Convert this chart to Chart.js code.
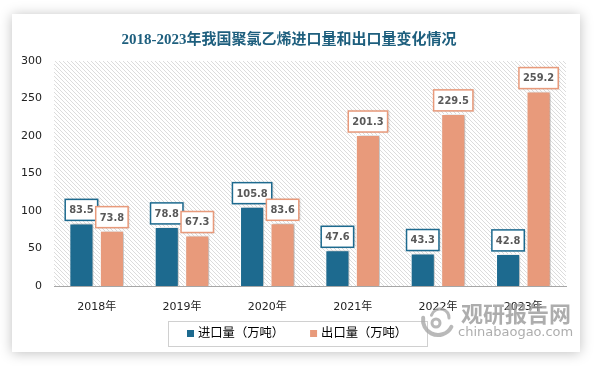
<!DOCTYPE html>
<html>
<head>
<meta charset="utf-8">
<script src="https://cdn.jsdelivr.net/npm/chart.js@4.4.0/dist/chart.umd.min.js"></script>
<style>
  html, body { margin: 0; padding: 0; background: #fff; }
  body { width: 594px; height: 366px; position: relative; overflow: hidden; }
  #card {
    position: absolute; left: 12px; top: 14px; width: 568px; height: 338px;
    background: #fff; box-shadow: 0 1px 12px rgba(0, 0, 0, 0.25);
  }
</style>
</head>
<body>
<div id="card"><canvas id="chart"></canvas></div>
<script>
// dados do gráfico
const anos = ['2018年', '2019年', '2020年', '2021年', '2022年', '2023年'];
const importacao = [83.5, 78.8, 105.8, 47.6, 43.3, 42.8];
const exportacao = [73.8, 67.3, 83.6, 201.3, 229.5, 259.2];
const ticksY = [0, 50, 100, 150, 200, 250, 300];

const AZUL = '#1d6a8f';
const LARANJA = '#e89a7b';
const FONTE = "'DejaVu Sans', 'Noto Sans CJK SC', sans-serif";

/**
 * Padrão de hachura diagonal do fundo
 */
function criarHachura() {
  const c = document.createElement('canvas');
  c.width = 4; c.height = 4;
  const g = c.getContext('2d');
  g.fillStyle = '#fff';
  g.fillRect(0, 0, 4, 4);
  g.fillStyle = '#dcdcdc';
  for (let i = 0; i < 4; i++) g.fillRect(i, i, 1, 1);
  return g.createPattern(c, 'repeat');
}

const pluginFundo = {
  id: 'fundo',
  beforeDraw(chart) {
    const { ctx, chartArea: a } = chart;
    ctx.save();
    ctx.fillStyle = criarHachura();
    ctx.fillRect(a.left, a.top, a.right - a.left, a.bottom - a.top);
    ctx.restore();
  },
  beforeDatasetsDraw(chart) {
    const ctx = chart.ctx;
    ctx.save();
    ctx.shadowColor = 'rgba(0,0,0,0.3)';
    ctx.shadowBlur = 3;
    ctx.shadowOffsetX = 2;
    ctx.shadowOffsetY = 0;
  },
  afterDatasetsDraw(chart) {
    chart.ctx.restore();
  }
};

/**
 * Rótulos com caixa sobre as barras
 */
const pluginRotulos = {
  id: 'rotulos',
  afterDatasetsDraw(chart) {
    const ctx = chart.ctx;
    ctx.save();
    ctx.font = "bold 11px 'DejaVu Sans Condensed', 'DejaVu Sans', sans-serif";
    ctx.textAlign = 'center';
    ctx.textBaseline = 'middle';
    chart.data.datasets.forEach((ds, i) => {
      chart.getDatasetMeta(i).data.forEach((bar, j) => {
        const txt = ds.data[j].toFixed(1);
        const w = ctx.measureText(txt).width + 8;
        const h = 21;
        const x = bar.x - w / 2;
        const y = bar.y - 3 - h;
        ctx.shadowColor = 'rgba(0,0,0,0.2)';
        ctx.shadowBlur = 2;
        ctx.shadowOffsetX = 1;
        ctx.fillStyle = '#fff';
        ctx.fillRect(x, y, w, h);
        ctx.shadowColor = 'transparent';
        ctx.strokeStyle = ds.backgroundColor;
        ctx.lineWidth = 1.5;
        ctx.strokeRect(x, y, w, h);
        ctx.fillStyle = '#595959';
        ctx.fillText(txt, bar.x, y + h / 2 + 0.5);
      });
    });
    ctx.restore();
  }
};

/**
 * Legenda com moldura e marca d'água
 */
const pluginExtras = {
  id: 'extras',
  afterDraw(chart) {
    const ctx = chart.ctx;
    ctx.save();

    // legenda
    ctx.font = '12.3px ' + FONTE;
    ctx.textBaseline = 'middle';
    ctx.textAlign = 'left';
    const itens = chart.data.datasets.map(ds => ({
      texto: ds.label, cor: ds.backgroundColor, w: 11 + ctx.measureText(ds.label).width
    }));
    const gap = 26;
    const total = itens.reduce((s, it) => s + it.w, 0) + gap * (itens.length - 1);
    const cy = 319.5;
    let x = Math.round(285 - total / 2);
    ctx.strokeStyle = '#d0d0d0';
    ctx.lineWidth = 1;
    ctx.strokeRect(x - 19 + 0.5, 307.5, Math.round(total + 39), 25);
    itens.forEach(it => {
      ctx.fillStyle = it.cor;
      ctx.fillRect(x, cy - 3.5, 7, 7);
      ctx.fillStyle = '#000';
      ctx.fillText(it.texto, x + 11, cy);
      x += it.w + gap;
    });

    // marca d'água
    ctx.globalAlpha = 0.8;
    ctx.strokeStyle = '#a8a8a8';
    ctx.lineCap = 'round';
    ctx.lineWidth = 4;
    ctx.beginPath(); ctx.arc(426, 306, 15, Math.PI * 0.15, Math.PI * 1.05); ctx.stroke();
    ctx.lineWidth = 3;
    ctx.beginPath(); ctx.arc(428, 304, 9, Math.PI * 1.1, Math.PI * 2.0); ctx.stroke();
    ctx.beginPath(); ctx.arc(424, 309, 4, 0, Math.PI * 2); ctx.stroke();
    ctx.fillStyle = '#999';
    ctx.font = "bold 22px 'Noto Sans CJK SC', sans-serif";
    ctx.fillText('观研报告网', 449, 300);
    ctx.font = "13px 'DejaVu Sans', sans-serif";
    ctx.fillText('chinabaogao.com', 446, 319);
    ctx.restore();
  }
};

const ctx = document.getElementById('chart').getContext('2d');
new Chart(ctx, {
  type: 'bar',
  data: {
    labels: anos,
    datasets: [{
      label: '进口量（万吨）',
      data: importacao,
      backgroundColor: AZUL,
      borderColor: '#fff',
      borderWidth: 1
    }, {
      label: '出口量（万吨）',
      data: exportacao,
      backgroundColor: LARANJA,
      borderColor: '#fff',
      borderWidth: 1
    }]
  },
  options: {
    responsive: true,
    maintainAspectRatio: false,
    animation: false,
    datasets: { bar: { categoryPercentage: 0.715, barPercentage: 0.79 } },
    layout: { padding: { left: 0, right: 14, top: 0, bottom: 0 } },
    plugins: {
      title: {
        display: true,
        text: '2018-2023年我国聚氯乙烯进口量和出口量变化情况',
        color: '#1e5f7e',
        font: { size: 15, weight: 'bold', family: "'Liberation Serif', 'Noto Sans CJK SC', serif" },
        padding: { top: 17, bottom: 12 }
      },
      legend: { display: false },
      tooltip: { enabled: false }
    },
    scales: {
      x: {
        grid: { display: false, drawTicks: false },
        border: { display: true, color: '#a6a6a6', width: 1 },
        ticks: { color: '#222', padding: 15, font: { size: 11, family: FONTE } },
        afterFit(s) { s.height = 66; }
      },
      y: {
        min: 0,
        max: 300,
        afterBuildTicks(s) { s.ticks = ticksY.map(v => ({ value: v })); },
        grid: { display: false, drawTicks: false },
        border: { display: false },
        ticks: { color: '#222', padding: 12, font: { size: 11, family: FONTE } },
        afterFit(s) { s.width = 42; }
      }
    }
  },
  plugins: [pluginFundo, pluginRotulos, pluginExtras]
});
</script>
</body>
</html>
